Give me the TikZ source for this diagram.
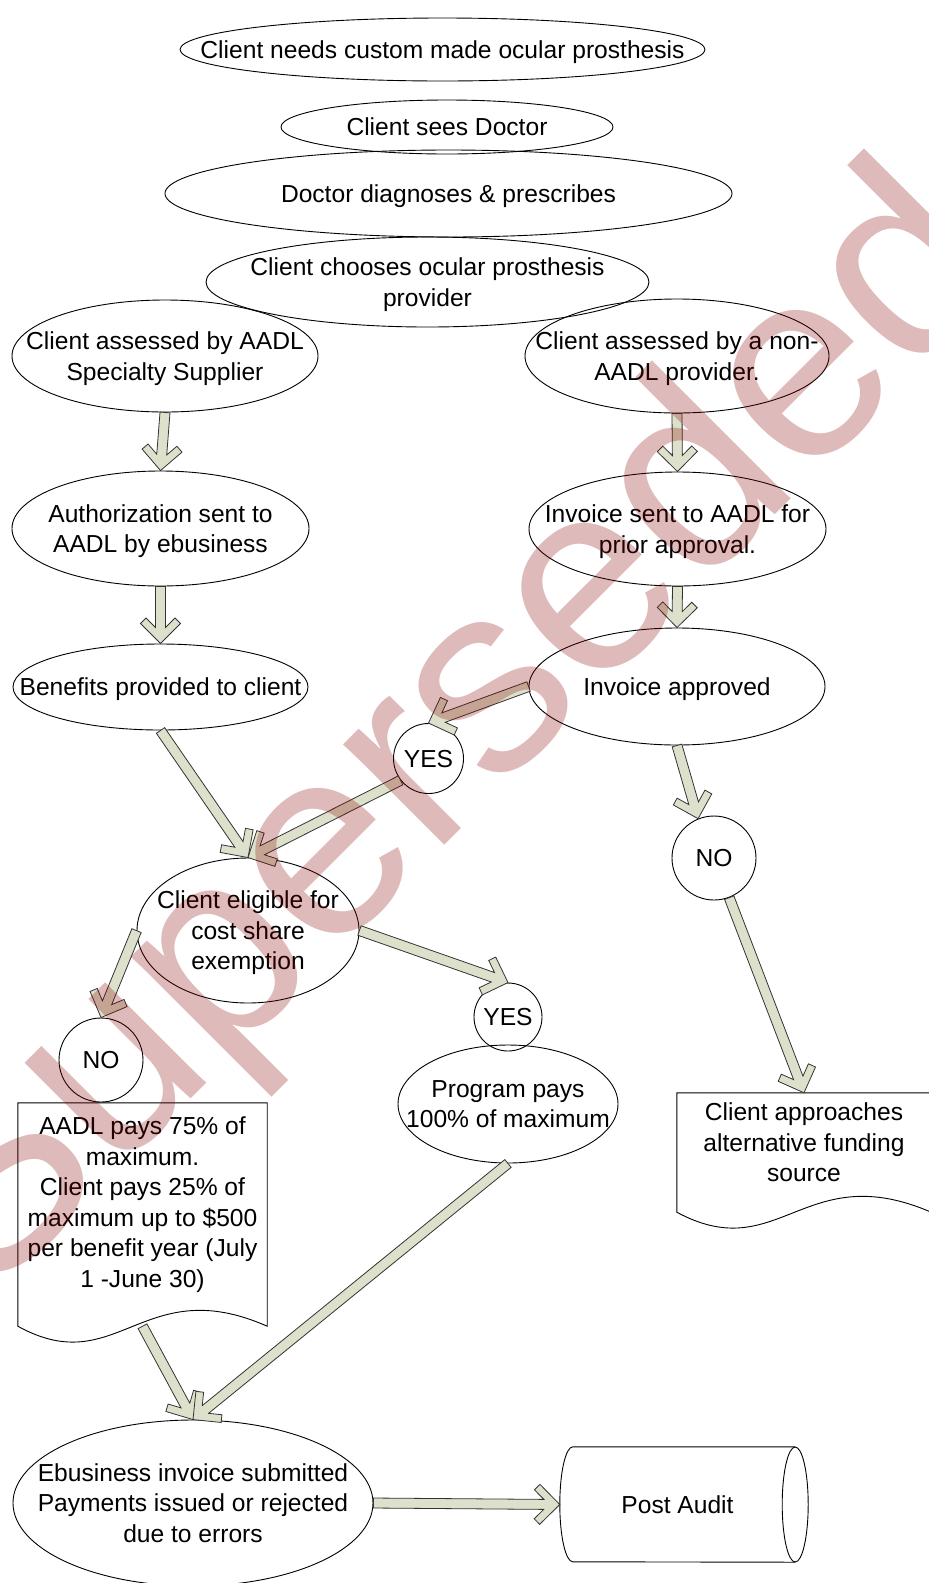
\documentclass[tikz,border=0pt]{standalone}
\usepackage{fontspec}
\setmainfont{Liberation Sans}
\usetikzlibrary{
    calc,
    shapes.geometric,
}
\definecolor{ArrowFill}{RGB}{221,225,204}
\colorlet{StampRed}{red!52!black}
\newcommand\stagefont{\fontsize{24.6}{30.5}\selectfont}
\newcommand\fatarrow[2]{%
    \path[fatarr] let \p1=(#1), \p2=(#2),
        \n1={atan2(\y2-\y1,\x2-\x1)}, \n2={veclen(\x2-\x1,\y2-\y1)} in
        [shift={(\p2)},rotate=\n1]
        (0,0) -- (-20pt,20pt) -- (-25.5pt,14.5pt) -- (-16pt,5pt) -- (-\n2,5pt)
        -- (-\n2,-5pt) -- (-16pt,-5pt) -- (-25.5pt,-14.5pt) -- (-20pt,-20pt) -- cycle;}
\newcommand\docoutline[1]{%
    \draw[outline] (#1.north west) -- (#1.north east) -- ($(#1.south east)+(0,20)$)
        .. controls ($(#1.south)+(0,-35)$) and ($(#1.south)+(-25,75)$) .. ($(#1.south west)+(0,20)$) -- cycle;}

\begin{document}
\begin{tikzpicture}[
    x=1pt,y=-1pt,
    outline/.style={draw=black,line width=0.9pt},
    stage/.style={ellipse,outline,inner sep=0pt},
    choice/.style={circle,outline,inner sep=0pt},
    txt/.style={font=\stagefont,align=center,inner sep=0pt},
    lbl/.style={txt,text depth=0pt},
    fatarr/.style={draw=black!80,fill=ArrowFill,line width=0.8pt,line join=miter},
    stamp/.style={font=\fontsize{270}{270}\selectfont,text=StampRed,text opacity=0.27,rotate=45,anchor=base,inner sep=0pt}
    ]
    \useasboundingbox (0,0) rectangle (929,1583);

    \node[stage,minimum width=525pt,minimum height=63pt,label={[lbl]center:Client needs custom made ocular prosthesis}] (need) at (442.5,49.5) {};
    \node[stage,minimum width=332pt,minimum height=54pt,label={[lbl]center:Client sees Doctor}] (sees) at (447,127) {};
    \node[stage,minimum width=567pt,minimum height=87pt,label={[lbl]center:Doctor diagnoses \& prescribes}] (diag) at (448.5,193.5) {};
    \node[stage,minimum width=443pt,minimum height=90pt,label={[lbl]center:Client chooses ocular prosthesis\\provider}] (choose) at (427.5,282) {};

    \node[stage,minimum width=306pt,minimum height=112pt,label={[lbl]center:Client assessed by AADL\\Specialty Supplier}] (spec) at (165,356) {};
    \node[stage,minimum width=304pt,minimum height=114pt,label={[lbl]center:Client assessed by a non-\\AADL provider.}] (nonaadl) at (677,356) {};
    \node[stage,minimum width=297pt,minimum height=115pt,label={[lbl]center:Authorization sent to\\AADL by ebusiness}] (auth) at (160.5,528.5) {};
    \node[stage,minimum width=297pt,minimum height=114pt,label={[lbl]center:Invoice sent to AADL for\\prior approval.}] (invoice) at (677.5,529) {};
    \node[stage,minimum width=295pt,minimum height=86pt,label={[lbl]center:Benefits provided to client}] (benefit) at (160.5,687) {};
    \node[stage,minimum width=296pt,minimum height=117pt,label={[lbl]center:Invoice approved}] (approved) at (677,686.5) {};

    \node[choice,minimum size=70pt,label={[lbl]center:YES}] (yes1) at (428.5,758.5) {};
    \node[choice,minimum size=84pt,label={[lbl]center:NO}] (no1) at (714,858) {};
    \node[stage,minimum width=222pt,minimum height=145pt,label={[lbl]center:Client eligible for\\cost share\\exemption}] (elig) at (248,930.5) {};
    \node[choice,minimum size=68pt,label={[lbl]center:YES}] (yes2) at (508,1017) {};
    \node[choice,minimum size=84pt,label={[lbl]center:NO}] (no2) at (101,1060) {};
    \node[stage,minimum width=220pt,minimum height=118pt,label={[lbl]center:Program pays\\100\% of maximum}] (pays) at (508,1104) {};

    \node[txt,minimum width=249pt,minimum height=203pt] (cshare) at (142.5,1204.5) {AADL pays 75\% of\\maximum.\\Client pays 25\% of\\maximum up to \$500\\per benefit year (July\\1 -June 30)};
    \docoutline{cshare}
    \coordinate (cshare-tail) at ($(cshare.south)+(0,20)$);
    \node[txt,minimum width=254pt,minimum height=99pt] (altfund) at (804,1142.5) {Client approaches\\alternative funding\\source};
    \docoutline{altfund}

    \node[stage,minimum width=360pt,minimum height=166pt,label={[lbl]center:Ebusiness invoice submitted\\Payments issued or rejected\\due to errors}] (ebiz) at (193,1503) {};
    \node[txt,minimum width=235pt,minimum height=115pt] (audit) at (677.5,1504.5) {Post Audit};
    \draw[outline] (audit.north east) -- ([xshift=13pt]audit.north west) arc[start angle=90,end angle=270,x radius=13pt,y radius=57.5pt] -- (audit.south east);
    \draw[outline] (audit.east) ellipse[x radius=13pt,y radius=57.5pt];

    \fatarrow{spec.south}{auth.north}
    \fatarrow{auth.south}{benefit.north}
    \fatarrow{nonaadl.south}{invoice.north}
    \fatarrow{invoice.south}{approved.north}
    \fatarrow{approved.west}{yes1.north}
    \fatarrow{yes1.218}{elig.north}
    \fatarrow{benefit.south}{elig.north}
    \fatarrow{approved.south}{no1.112}
    \fatarrow{no1.291}{altfund.north}
    \fatarrow{elig.east}{yes2.north}
    \fatarrow{elig.west}{no2.north}
    \fatarrow{cshare-tail}{ebiz.north}
    \fatarrow{pays.south}{ebiz.north}
    \fatarrow{ebiz.east}{audit.west}

    \node[stamp] (stamp) at (501,789) {Superseded};
\end{tikzpicture}
\end{document}
